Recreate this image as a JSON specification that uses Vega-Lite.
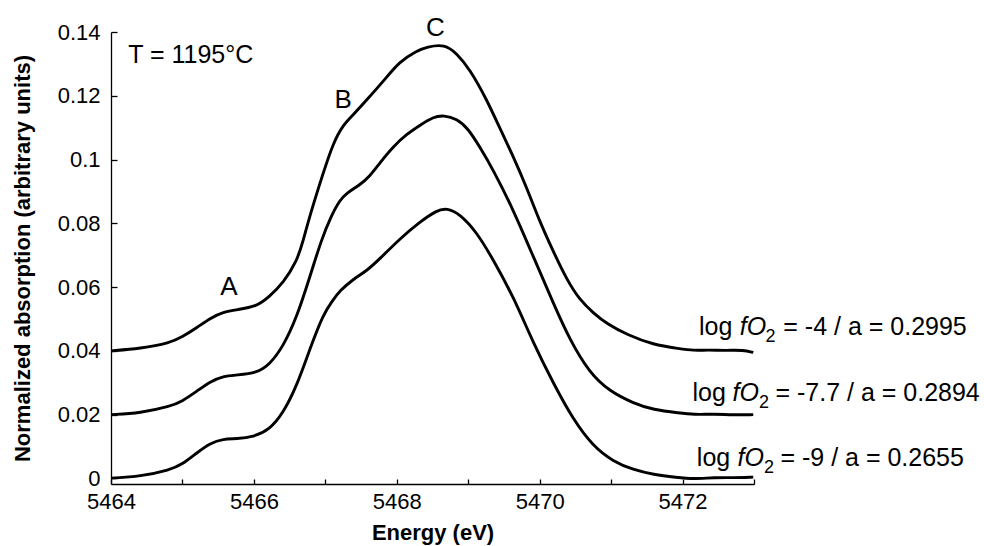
{
  "$schema": "https://vega.github.io/schema/vega-lite/v6.json",
  "width": 643,
  "height": 452,
  "autosize": "none",
  "padding": {"left": 111, "top": 32, "right": 230, "bottom": 62},
  "background": "white",
  "config": {
    "view": {"stroke": null},
    "font": "Liberation Sans",
    "axis": {"grid": false, "domainColor": "black", "tickColor": "black", "labelColor": "black", "titleColor": "black", "labelFont": "Liberation Sans", "titleFont": "Liberation Sans", "labelFontSize": 22, "titleFontSize": 22, "titleFontWeight": "bold", "domainWidth": 1.3, "tickWidth": 1.3}
  },
  "datasets": {
    "curves": [
      {"s": "a", "e": 5464.00, "v": 0.0400}, {"s": "a", "e": 5464.41, "v": 0.0407}, {"s": "a", "e": 5464.83, "v": 0.0425}, {"s": "a", "e": 5464.99, "v": 0.0443}, {"s": "a", "e": 5465.20, "v": 0.0472}, {"s": "a", "e": 5465.39, "v": 0.0503}, {"s": "a", "e": 5465.57, "v": 0.0522}, {"s": "a", "e": 5465.76, "v": 0.0529}, {"s": "a", "e": 5466.04, "v": 0.0539}, {"s": "a", "e": 5466.22, "v": 0.0571}, {"s": "a", "e": 5466.41, "v": 0.0613}, {"s": "a", "e": 5466.60, "v": 0.0680}, {"s": "a", "e": 5466.69, "v": 0.0745}, {"s": "a", "e": 5466.78, "v": 0.0822}, {"s": "a", "e": 5466.97, "v": 0.0958}, {"s": "a", "e": 5467.11, "v": 0.1052}, {"s": "a", "e": 5467.25, "v": 0.1109}, {"s": "a", "e": 5467.39, "v": 0.1140}, {"s": "a", "e": 5467.58, "v": 0.1187}, {"s": "a", "e": 5467.81, "v": 0.1245}, {"s": "a", "e": 5468.04, "v": 0.1308}, {"s": "a", "e": 5468.28, "v": 0.1341}, {"s": "a", "e": 5468.42, "v": 0.1353}, {"s": "a", "e": 5468.67, "v": 0.1362}, {"s": "a", "e": 5468.84, "v": 0.1333}, {"s": "a", "e": 5469.02, "v": 0.1284}, {"s": "a", "e": 5469.26, "v": 0.1188}, {"s": "a", "e": 5469.44, "v": 0.1099}, {"s": "a", "e": 5469.63, "v": 0.1010}, {"s": "a", "e": 5469.82, "v": 0.0911}, {"s": "a", "e": 5470.00, "v": 0.0806}, {"s": "a", "e": 5470.19, "v": 0.0712}, {"s": "a", "e": 5470.38, "v": 0.0623}, {"s": "a", "e": 5470.56, "v": 0.0560}, {"s": "a", "e": 5470.75, "v": 0.0519}, {"s": "a", "e": 5470.94, "v": 0.0485}, {"s": "a", "e": 5471.22, "v": 0.0451}, {"s": "a", "e": 5471.59, "v": 0.0419}, {"s": "a", "e": 5471.96, "v": 0.0407}, {"s": "a", "e": 5472.15, "v": 0.0401}, {"s": "a", "e": 5472.35, "v": 0.0403}, {"s": "a", "e": 5472.61, "v": 0.0401}, {"s": "a", "e": 5472.85, "v": 0.0403}, {"s": "a", "e": 5472.99, "v": 0.0395},
      {"s": "b", "e": 5464.00, "v": 0.0200}, {"s": "b", "e": 5464.41, "v": 0.0205}, {"s": "b", "e": 5464.83, "v": 0.0226}, {"s": "b", "e": 5464.99, "v": 0.0241}, {"s": "b", "e": 5465.20, "v": 0.0273}, {"s": "b", "e": 5465.39, "v": 0.0304}, {"s": "b", "e": 5465.57, "v": 0.0321}, {"s": "b", "e": 5465.76, "v": 0.0324}, {"s": "b", "e": 5466.04, "v": 0.0331}, {"s": "b", "e": 5466.22, "v": 0.0357}, {"s": "b", "e": 5466.41, "v": 0.0414}, {"s": "b", "e": 5466.60, "v": 0.0505}, {"s": "b", "e": 5466.78, "v": 0.0630}, {"s": "b", "e": 5466.95, "v": 0.0752}, {"s": "b", "e": 5467.08, "v": 0.0822}, {"s": "b", "e": 5467.20, "v": 0.0872}, {"s": "b", "e": 5467.30, "v": 0.0895}, {"s": "b", "e": 5467.48, "v": 0.0920}, {"s": "b", "e": 5467.62, "v": 0.0947}, {"s": "b", "e": 5467.76, "v": 0.0989}, {"s": "b", "e": 5467.95, "v": 0.1041}, {"s": "b", "e": 5468.14, "v": 0.1080}, {"s": "b", "e": 5468.32, "v": 0.1107}, {"s": "b", "e": 5468.51, "v": 0.1134}, {"s": "b", "e": 5468.66, "v": 0.1139}, {"s": "b", "e": 5468.84, "v": 0.1128}, {"s": "b", "e": 5469.00, "v": 0.1097}, {"s": "b", "e": 5469.16, "v": 0.1040}, {"s": "b", "e": 5469.35, "v": 0.0968}, {"s": "b", "e": 5469.63, "v": 0.0843}, {"s": "b", "e": 5469.91, "v": 0.0696}, {"s": "b", "e": 5470.19, "v": 0.0550}, {"s": "b", "e": 5470.42, "v": 0.0435}, {"s": "b", "e": 5470.70, "v": 0.0330}, {"s": "b", "e": 5470.98, "v": 0.0273}, {"s": "b", "e": 5471.31, "v": 0.0236}, {"s": "b", "e": 5471.59, "v": 0.0215}, {"s": "b", "e": 5471.96, "v": 0.0205}, {"s": "b", "e": 5472.15, "v": 0.0200}, {"s": "b", "e": 5472.45, "v": 0.0202}, {"s": "b", "e": 5472.70, "v": 0.0199}, {"s": "b", "e": 5472.99, "v": 0.0200},
      {"s": "c", "e": 5464.00, "v": 0.0001}, {"s": "c", "e": 5464.41, "v": 0.0006}, {"s": "c", "e": 5464.83, "v": 0.0027}, {"s": "c", "e": 5464.99, "v": 0.0043}, {"s": "c", "e": 5465.20, "v": 0.0080}, {"s": "c", "e": 5465.39, "v": 0.0111}, {"s": "c", "e": 5465.57, "v": 0.0124}, {"s": "c", "e": 5465.76, "v": 0.0124}, {"s": "c", "e": 5465.99, "v": 0.0130}, {"s": "c", "e": 5466.22, "v": 0.0153}, {"s": "c", "e": 5466.41, "v": 0.0205}, {"s": "c", "e": 5466.60, "v": 0.0290}, {"s": "c", "e": 5466.78, "v": 0.0404}, {"s": "c", "e": 5466.97, "v": 0.0515}, {"s": "c", "e": 5467.10, "v": 0.0557}, {"s": "c", "e": 5467.20, "v": 0.0588}, {"s": "c", "e": 5467.39, "v": 0.0625}, {"s": "c", "e": 5467.58, "v": 0.0651}, {"s": "c", "e": 5467.76, "v": 0.0688}, {"s": "c", "e": 5468.04, "v": 0.0751}, {"s": "c", "e": 5468.32, "v": 0.0804}, {"s": "c", "e": 5468.56, "v": 0.0841}, {"s": "c", "e": 5468.70, "v": 0.0848}, {"s": "c", "e": 5468.88, "v": 0.0830}, {"s": "c", "e": 5469.12, "v": 0.0772}, {"s": "c", "e": 5469.35, "v": 0.0686}, {"s": "c", "e": 5469.63, "v": 0.0571}, {"s": "c", "e": 5469.91, "v": 0.0425}, {"s": "c", "e": 5470.19, "v": 0.0299}, {"s": "c", "e": 5470.47, "v": 0.0184}, {"s": "c", "e": 5470.75, "v": 0.0100}, {"s": "c", "e": 5471.03, "v": 0.0053}, {"s": "c", "e": 5471.31, "v": 0.0027}, {"s": "c", "e": 5471.59, "v": 0.0012}, {"s": "c", "e": 5471.92, "v": 0.0003}, {"s": "c", "e": 5472.15, "v": -0.0002}, {"s": "c", "e": 5472.45, "v": 0.0003}, {"s": "c", "e": 5472.70, "v": 0.0002}, {"s": "c", "e": 5472.99, "v": 0.0004}
    ],
    "notes": [
      {"k": "n", "e": 5464.24, "v": 0.1304, "t": "T = 1195°C"},
      {"k": "c", "e": 5465.65, "v": 0.0576, "t": "A"},
      {"k": "c", "e": 5467.25, "v": 0.1161, "t": "B"},
      {"k": "c", "e": 5468.54, "v": 0.1388, "t": "C"},
      {"k": "n", "e": 5472.23, "v": 0.04506, "t": "log"},
      {"k": "i", "e": 5472.80, "v": 0.04506, "t": "fO"},
      {"k": "s", "e": 5473.16, "v": 0.04506, "t": "2"},
      {"k": "n", "e": 5473.41, "v": 0.04506, "t": "= -4 / a = 0.2995"},
      {"k": "n", "e": 5472.14, "v": 0.02415, "t": "log"},
      {"k": "i", "e": 5472.70, "v": 0.02415, "t": "fO"},
      {"k": "s", "e": 5473.07, "v": 0.02415, "t": "2"},
      {"k": "n", "e": 5473.30, "v": 0.02415, "t": "= -7.7 / a = 0.2894"},
      {"k": "n", "e": 5472.20, "v": 0.00376, "t": "log"},
      {"k": "i", "e": 5472.77, "v": 0.00376, "t": "fO"},
      {"k": "s", "e": 5473.14, "v": 0.00376, "t": "2"},
      {"k": "n", "e": 5473.37, "v": 0.00376, "t": "= -9 / a = 0.2655"}
    ]
  },
  "layer": [
    {
      "data": {"name": "curves"},
      "mark": {"type": "line", "color": "black", "strokeWidth": 2.9, "interpolate": "basis", "clip": false},
      "encoding": {
        "x": {"field": "e", "type": "quantitative", "scale": {"domain": [5464, 5473], "nice": false, "zero": false},
          "axis": {"title": "Energy (eV)", "values": [5464, 5465, 5466, 5467, 5468, 5469, 5470, 5471, 5472, 5473], "format": "d", "labelExpr": "datum.value % 2 == 0 ? datum.label : ''", "tickSize": -5, "labelPadding": 12, "labelFlush": false, "titleX": 321.5, "titleY": 55, "titleBaseline": "alphabetic", "titleAlign": "center"}},
        "y": {"field": "v", "type": "quantitative", "scale": {"domain": [-0.00175, 0.14], "nice": false, "zero": false},
          "axis": {"title": "Normalized absorption (arbitrary units)", "values": [0, 0.02, 0.04, 0.06, 0.08, 0.1, 0.12, 0.14], "format": "~g", "tickSize": -6, "labelPadding": 17, "labelFlush": false, "titleX": -89, "titleY": 226, "titleAngle": -90, "titleAlign": "center", "titleBaseline": "middle"}},
        "detail": {"field": "s"}
      }
    },
    {
      "data": {"name": "notes"},
      "transform": [{"filter": "datum.k == 'n'"}],
      "mark": {"type": "text", "align": "left", "baseline": "alphabetic", "fontSize": 25, "color": "black", "font": "Liberation Sans"},
      "encoding": {"x": {"field": "e", "type": "quantitative"}, "y": {"field": "v", "type": "quantitative"}, "text": {"field": "t"}}
    },
    {
      "data": {"name": "notes"},
      "transform": [{"filter": "datum.k == 'i'"}],
      "mark": {"type": "text", "align": "left", "baseline": "alphabetic", "fontSize": 25, "fontStyle": "italic", "color": "black", "font": "Liberation Sans"},
      "encoding": {"x": {"field": "e", "type": "quantitative"}, "y": {"field": "v", "type": "quantitative"}, "text": {"field": "t"}}
    },
    {
      "data": {"name": "notes"},
      "transform": [{"filter": "datum.k == 's'"}],
      "mark": {"type": "text", "align": "left", "baseline": "alphabetic", "fontSize": 18, "dy": 7, "color": "black", "font": "Liberation Sans"},
      "encoding": {"x": {"field": "e", "type": "quantitative"}, "y": {"field": "v", "type": "quantitative"}, "text": {"field": "t"}}
    },
    {
      "data": {"name": "notes"},
      "transform": [{"filter": "datum.k == 'c'"}],
      "mark": {"type": "text", "align": "center", "baseline": "alphabetic", "fontSize": 26, "color": "black", "font": "Liberation Sans"},
      "encoding": {"x": {"field": "e", "type": "quantitative"}, "y": {"field": "v", "type": "quantitative"}, "text": {"field": "t"}}
    }
  ]
}
